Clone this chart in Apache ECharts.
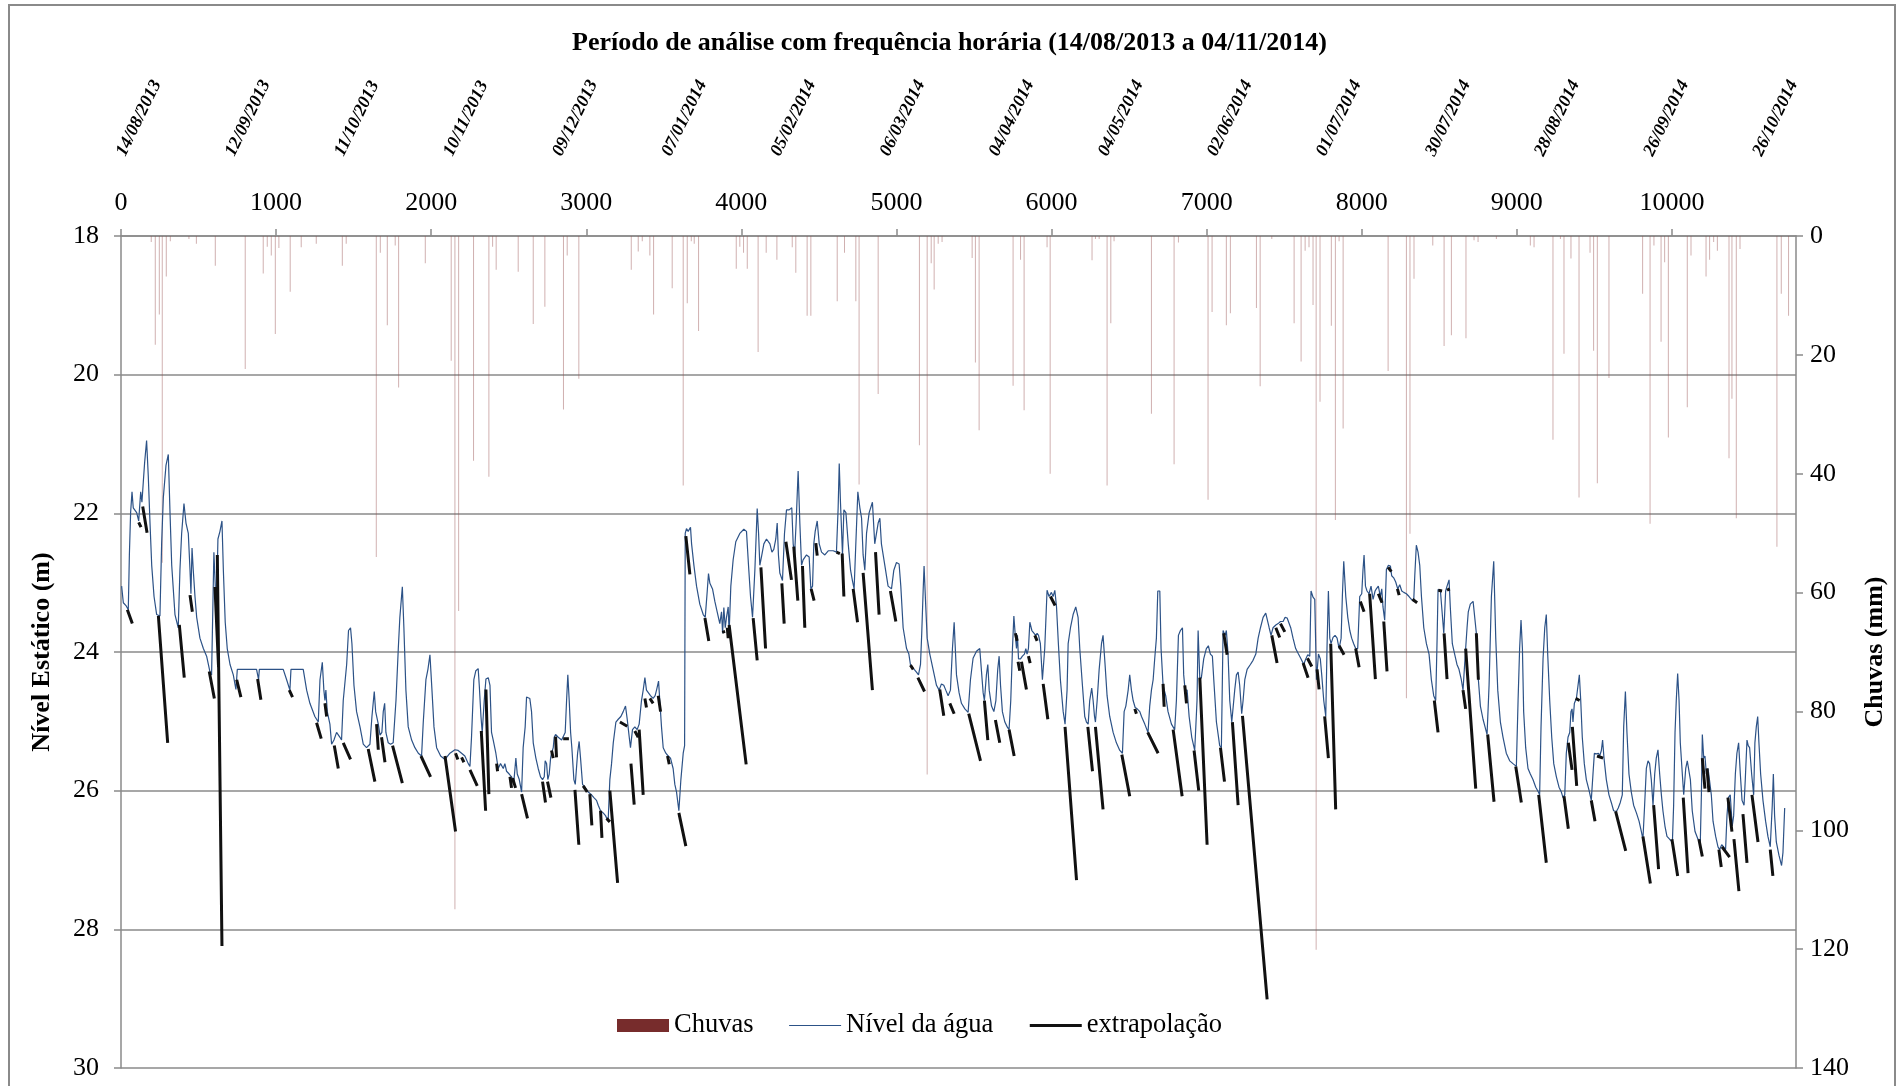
<!DOCTYPE html>
<html>
<head>
<meta charset="utf-8">
<script src="https://cdn.jsdelivr.net/npm/echarts@6/dist/echarts.min.js"></script>
<style>
  html, body { margin: 0; padding: 0; background: #fff; }
  #chart { width: 1899px; height: 1086px; }
</style>
</head>
<body>
<div id="chart"></div>
<script>
// Título e rótulos de datas do eixo superior
const titulo = 'Período de análise com frequência horária (14/08/2013 a 04/11/2014)';
const datasTopo = ['14/08/2013', '12/09/2013', '11/10/2013', '10/11/2013', '09/12/2013', '07/01/2014',
  '05/02/2014', '06/03/2014', '04/04/2014', '04/05/2014', '02/06/2014', '01/07/2014', '30/07/2014',
  '28/08/2014', '26/09/2014', '26/10/2014'];
const passoDatas = 703.5;   // horas entre rótulos de data
const horaMax = 10800;
const passoHoras = 1000;

// Nível da água: [hora, nível estático (m)]
const nivel = [
  [4,23.05],[15,23.29],[32,23.33],[47,23.39],[54,22.60],[62,21.99],[71,21.69],[79,21.92],[101,21.99],[114,22.11],
  [127,21.69],[135,21.84],[144,21.54],[152,21.28],[165,20.95],[176,21.47],[187,22.14],[198,22.75],[213,23.20],[230,23.46],
  [251,23.48],[262,22.44],[273,21.77],[290,21.31],[305,21.15],[316,21.99],[327,22.75],[348,23.46],[369,23.65],[380,22.82],
  [391,22.29],[406,21.86],[419,22.14],[434,22.29],[445,22.82],[451,23.16],[458,22.50],[466,22.82],[477,23.20],[488,23.50],
  [509,23.80],[531,23.95],[552,24.06],[574,24.29],[584,24.33],[599,22.56],[608,23.05],[617,23.20],[625,22.37],[638,22.26],
  [651,22.11],[660,22.82],[672,23.57],[685,23.95],[703,24.18],[724,24.33],[741,24.54],[750,24.25],[874,24.25],[887,24.40],
  [892,24.25],[1046,24.25],[1068,24.40],[1089,24.55],[1096,24.25],[1175,24.25],[1197,24.55],[1218,24.74],[1250,24.93],[1272,25.01],
  [1283,24.40],[1298,24.15],[1308,24.55],[1315,24.70],[1321,24.55],[1330,24.86],[1347,25.04],[1358,25.33],[1373,25.27],[1390,25.16],
  [1412,25.23],[1422,25.27],[1433,24.70],[1455,24.18],[1467,23.69],[1480,23.65],[1489,23.88],[1502,24.48],[1519,24.86],[1541,25.08],
  [1562,25.33],[1583,25.38],[1605,25.33],[1618,24.93],[1633,24.57],[1642,24.86],[1650,24.86],[1659,25.04],[1670,25.20],[1682,25.16],
  [1691,24.86],[1700,24.74],[1708,25.16],[1723,25.31],[1738,25.33],
  [1755,25.31],[1773,24.70],[1788,23.95],[1798,23.50],[1814,23.06],[1824,23.65],[1837,24.55],[1852,25.08],[1874,25.27],[1895,25.38],
  [1917,25.46],[1938,25.50],[1949,25.01],[1966,24.40],[1979,24.25],[1992,24.04],[2005,24.55],[2018,25.08],[2035,25.38],[2061,25.50],
  [2089,25.55],[2121,25.46],[2153,25.41],[2174,25.42],[2196,25.46],[2217,25.50],[2239,25.61],[2250,25.65],[2260,25.23],[2275,24.40],
  [2288,24.27],[2303,24.24],[2310,24.48],[2321,24.93],[2329,25.16],[2342,24.70],[2353,24.39],[2368,24.37],[2379,24.48],[2389,25.16],
  [2400,25.27],[2417,25.46],[2432,25.68],[2447,25.61],[2465,25.68],[2475,25.61],[2486,25.72],[2503,25.76],[2518,25.80],[2533,25.87],
  [2546,25.53],[2555,25.76],[2568,25.84],[2583,26.02],[2593,25.38],[2606,25.08],[2615,24.65],[2636,24.67],[2647,24.86],[2658,25.31],
  [2675,25.53],[2690,25.68],[2705,25.80],[2718,25.84],[2729,25.80],[2735,25.57],[2744,25.61],[2752,25.84],[2761,25.76],[2770,25.53],
  [2776,25.46],[2787,25.38],[2793,25.23],[2802,25.19],[2819,25.23],[2841,25.27],[2851,25.25],[2864,25.16],[2873,24.70],[2881,24.33],
  [2890,24.70],[2899,25.16],[2907,25.38],[2920,25.84],[2929,25.91],[2944,25.46],[2954,25.29],[2963,25.53],[2976,25.91],[2991,25.95],
  [3012,26.02],[3034,26.06],[3049,26.10],[3066,26.14],[3077,26.21],[3092,26.29],[3109,26.32],[3124,26.36],[3141,26.44],[3152,25.84],
  [3163,25.61],[3174,25.31],[3191,25.01],[3206,24.97],[3223,24.93],[3238,24.86],[3253,24.78],[3264,24.97],[3277,25.23],[3285,25.38],
  [3298,25.12],[3313,25.08],[3328,25.12],[3341,25.04],[3356,24.70],[3367,24.55],[3378,24.37],[3388,24.55],[3401,24.59],[3414,24.63],
  [3431,24.67],[3444,24.63],[3453,24.55],[3466,24.42],[3474,24.70],[3485,25.08],[3496,25.38],[3513,25.46],[3528,25.50],[3543,25.53],
  [3560,25.68],[3571,25.91],[3582,26.02],[3597,26.29],[3610,25.84],[3625,25.46],[3634,25.35],[3638,22.29],[3646,22.22],[3657,22.26],
  [3672,22.20],[3679,22.44],[3694,22.75],[3711,23.05],[3732,23.31],[3754,23.46],[3767,23.50],[3780,23.12],[3788,22.87],[3797,23.01],
  [3814,23.09],[3829,23.27],[3844,23.42],[3861,23.59],[3872,23.42],[3879,23.73],[3887,23.36],[3896,23.65],[3904,23.50],[3915,23.35],
  [3921,23.73],[3932,23.05],[3947,22.67],[3964,22.41],[3990,22.29],[4016,22.23],[4033,22.26],[4046,22.75],[4059,23.20],[4072,23.50],
  [4087,22.82],[4102,21.93],[4111,22.29],[4119,22.75],[4132,22.60],[4145,22.44],[4162,22.37],[4184,22.44],[4197,22.56],[4209,22.52],
  [4222,22.37],[4231,22.14],[4239,22.60],[4248,22.86],[4265,22.97],[4278,22.29],[4291,21.95],[4308,21.95],[4325,21.92],[4334,22.44],
  [4343,22.60],[4353,22.14],[4366,21.39],[4377,22.14],[4388,22.75],[4398,22.67],[4420,22.60],[4437,22.63],[4448,23.09],[4459,23.05],
  [4467,22.44],[4476,22.26],[4489,22.11],[4502,22.44],[4517,22.56],[4538,22.60],[4560,22.54],[4592,22.54],[4613,22.56],[4624,21.92],
  [4631,21.28],[4639,21.84],[4652,22.60],[4661,21.95],[4674,21.99],[4689,22.44],[4704,22.82],[4716,22.97],[4727,23.09],[4738,22.44],
  [4751,21.69],[4764,21.92],[4775,22.07],[4785,22.60],[4796,22.82],[4807,22.29],[4824,21.99],[4845,21.84],[4860,22.44],[4871,22.44],
  [4882,22.14],[4893,22.07],[4903,22.44],[4925,22.75],[4946,23.05],[4968,23.09],[4983,22.82],[5000,22.71],[5017,22.73],[5028,23.05],
  [5043,23.65],[5065,23.95],[5080,24.03],[5090,24.18],[5099,24.22],[5114,24.25],[5129,24.29],[5142,24.33],[5155,24.18],[5163,23.73],
  [5172,23.12],[5178,22.76],[5189,23.35],[5198,23.80],[5215,24.03],[5236,24.25],[5258,24.48],[5275,24.55],[5290,24.46],[5305,24.48],
  [5318,24.55],[5333,24.63],[5348,24.55],[5361,23.95],[5372,23.57],
  [5378,23.88],[5387,24.33],[5404,24.59],[5419,24.74],[5441,24.82],[5462,24.87],[5477,24.40],[5494,24.09],[5516,23.99],[5537,23.95],
  [5550,24.33],[5559,24.59],[5567,24.70],[5580,24.33],[5589,24.18],[5598,24.55],[5613,24.78],[5628,24.86],[5641,24.70],[5653,24.25],
  [5662,24.06],[5671,24.48],[5683,24.86],[5699,25.01],[5714,25.08],[5726,25.12],[5737,24.70],[5748,23.95],[5757,23.48],[5765,23.73],
  [5774,23.95],[5780,23.76],[5787,24.10],[5800,24.10],[5812,24.06],[5825,24.03],[5834,23.95],[5842,24.03],[5851,23.95],[5860,23.57],
  [5873,23.69],[5885,23.71],[5898,23.76],[5907,23.73],[5916,23.76],[5928,23.88],[5941,24.40],[5956,23.95],[5971,23.11],[5984,23.20],
  [5999,23.14],[6010,23.20],[6021,23.11],[6032,23.35],[6044,23.88],[6057,24.40],[6075,24.86],[6087,25.04],[6100,24.55],[6107,23.88],
  [6122,23.65],[6139,23.46],[6156,23.35],[6171,23.50],[6182,23.95],[6199,24.48],[6214,24.93],[6225,25.01],[6236,25.04],[6246,24.70],
  [6259,24.52],[6268,24.70],[6277,24.93],[6283,25.01],[6294,24.70],[6307,24.25],[6322,23.88],[6332,23.76],[6345,24.18],[6358,24.63],
  [6375,24.93],[6397,25.16],[6418,25.31],[6440,25.42],[6457,25.46],[6468,24.86],[6479,24.78],[6494,24.55],[6504,24.33],[6515,24.55],
  [6526,24.70],[6539,24.80],[6552,24.82],[6569,24.86],[6580,24.93],[6601,25.04],[6622,25.16],[6633,24.78],[6644,24.55],[6655,24.40],
  [6665,24.10],[6676,23.80],[6685,23.12],[6698,23.12],[6706,23.95],[6719,24.48],[6736,24.63],[6751,24.86],[6773,25.04],[6794,25.12],
  [6805,24.70],[6818,23.76],[6831,23.69],[6844,23.65],[6852,24.33],[6861,24.55],[6874,24.55],[6887,24.93],[6904,25.23],[6923,25.42],
  [6938,24.70],[6945,23.69],[6956,24.40],[6966,24.37],[6981,24.10],[6998,23.95],[7011,23.91],[7024,24.03],[7037,24.06],[7046,24.40],
  [7063,25.01],[7084,25.35],[7095,25.38],[7106,23.69],[7119,23.76],[7127,23.69],[7138,24.03],[7149,24.70],[7162,25.01],
  [7181,24.55],[7192,24.33],[7203,24.29],[7213,24.48],[7226,24.89],[7235,24.70],[7246,24.40],[7261,24.25],[7282,24.18],[7299,24.12],
  [7317,24.03],[7332,23.80],[7347,23.65],[7364,23.50],[7381,23.44],[7392,23.42],[7403,23.65],[7415,23.76],[7428,23.65],[7446,23.61],
  [7461,23.59],[7476,23.56],[7493,23.56],[7506,23.50],[7519,23.51],[7531,23.51],[7542,23.65],[7557,23.80],[7574,23.95],[7592,24.03],
  [7609,24.10],[7626,24.18],[7639,24.10],[7652,24.04],[7665,24.06],[7673,23.12],[7686,23.21],[7697,23.24],[7708,24.40],[7721,24.03],
  [7733,24.10],[7742,24.33],[7755,24.70],[7768,24.93],[7776,23.95],[7785,23.12],[7794,23.80],[7802,23.88],[7815,23.79],[7828,23.76],
  [7841,23.80],[7854,23.95],[7867,23.80],[7875,23.20],[7884,22.69],[7897,23.20],[7910,23.50],[7923,23.69],[7935,23.80],[7948,23.88],
  [7961,23.95],[7974,23.95],[7987,23.20],[8000,23.16],[8008,22.82],[8015,22.60],[8024,23.05],[8034,23.12],[8047,23.16],[8060,23.05],
  [8073,23.24],[8086,23.12],[8094,23.09],[8107,23.05],[8120,23.20],[8129,23.09],[8137,23.35],[8148,23.54],[8159,22.81],[8172,22.75],
  [8185,22.76],[8193,22.90],[8206,22.93],[8219,22.99],[8232,23.09],[8245,23.03],[8258,23.12],[8271,23.14],[8288,23.16],[8305,23.20],
  [8320,23.24],[8335,23.27],[8342,22.90],[8352,22.46],[8363,22.56],[8374,22.75],[8385,23.20],[8400,23.65],[8417,23.88],[8434,24.03],
  [8449,24.40],[8464,24.63],[8477,24.70],[8486,23.80],[8492,23.10],[8507,23.11],[8518,23.12],[8529,23.73],[8541,23.12],[8550,23.05],
  [8563,22.96],[8571,23.35],[8584,23.88],[8599,24.03],[8614,24.18],[8627,24.25],[8642,24.40],[8653,24.55],[8662,24.55],[8670,23.95],
  [8679,23.65],[8687,23.42],[8700,23.31],[8718,23.27],[8730,23.26],[8739,23.73],[8752,24.40],[8765,24.78],[8782,24.97],[8795,25.08],
  [8808,25.19],[8821,24.48],[8836,23.20],[8851,22.69],[8864,23.80],[8877,24.55],[8894,25.01],[8911,25.23],[8932,25.46],[8954,25.57],
  [8975,25.61],[8997,25.65],
  [9008,24.70],[9018,23.95],[9027,23.54],[9036,23.95],[9044,24.86],[9057,25.38],[9072,25.68],[9087,25.76],[9104,25.84],[9122,25.95],
  [9139,26.02],[9147,26.06],[9156,25.08],[9169,24.10],[9180,23.65],[9190,23.46],[9199,24.03],[9212,24.70],[9225,25.23],[9238,25.61],
  [9255,25.80],[9272,25.95],[9287,26.02],[9298,26.10],[9309,26.06],[9319,25.46],[9330,25.23],[9341,25.16],[9349,24.86],[9356,24.82],
  [9362,25.01],[9371,24.74],[9384,24.67],[9394,24.67],[9403,24.33],[9412,24.70],[9422,25.23],[9435,25.61],[9448,25.84],[9465,25.99],
  [9480,26.14],[9491,25.76],[9500,25.46],[9513,25.47],[9526,25.46],[9534,25.50],[9545,25.42],[9553,25.27],[9562,25.53],[9577,25.84],
  [9594,26.06],[9609,26.17],[9624,26.29],[9642,26.30],[9654,26.25],[9667,26.17],[9680,26.06],[9689,25.08],[9700,24.57],[9710,25.16],
  [9723,25.76],[9738,26.02],[9753,26.21],[9771,26.32],[9788,26.44],[9803,26.59],[9813,26.70],[9824,26.21],[9835,25.68],[9846,25.57],
  [9856,25.61],[9867,25.84],[9878,26.21],[9889,25.76],[9899,25.53],[9910,25.41],[9921,25.76],[9932,26.06],[9942,26.29],[9955,26.51],
  [9968,26.66],[9985,26.70],[10003,26.74],[10011,26.21],[10020,25.16],[10028,24.70],[10037,24.31],[10046,24.70],[10054,25.31],[10067,25.76],
  [10076,26.06],[10089,25.68],[10099,25.57],[10110,25.55],[10119,25.84],[10131,26.29],[10149,26.59],[10168,26.70],[10183,26.74],[10190,26.06],
  [10196,25.19],[10205,25.53],[10213,25.50],[10222,25.76],[10233,25.68],[10243,25.68],[10254,26.06],[10265,26.44],[10282,26.66],[10297,26.81],
  [10308,26.85],[10321,26.78],[10333,26.81],[10346,26.85],[10355,26.36],[10364,26.10],[10376,26.06],[10389,26.51],[10398,26.36],[10409,25.76],
  [10419,25.46],[10430,25.31],[10441,25.76],[10452,26.14],[10465,26.21],[10473,25.84],[10484,25.27],[10492,25.35],[10501,25.38],[10514,25.76],
  [10527,26.06],[10535,25.31],[10544,25.08],[10553,24.93],[10561,25.31],[10572,25.76],[10587,26.14],[10604,26.44],[10619,26.66],[10634,26.81],
  [10647,26.21],[10654,25.76],[10662,26.36],[10673,26.74],[10690,26.93],[10707,27.08],[10716,26.89],[10727,26.25]
];

// Chuvas horárias: [hora, mm]
const chuvas = [
  [195,1],[221,18.3],[247,13.2],[266,55],[292,6.8],[318,0.9],[438,0.5],[486,1.3],[608,5],[801,22.4],
  [917,6.3],[943,1.8],[969,3.3],[995,16.5],[1018,2],[1091,9.4],[1162,1.9],[1259,1.3],[1427,5],[1452,1.3],
  [1646,54],[1672,2.8],[1717,15],[1768,1.6],[1790,25.5],[1962,4.6],[2129,21],[2153,113.3],[2177,63.1],[2273,37.8],
  [2372,40.5],[2396,1.8],[2419,5.7],[2561,6],[2658,14.8],[2733,11.9],[2853,29.2],[2877,3.3],[2952,24],[3290,5.7],
  [3335,2.6],[3361,0.9],[3410,3.3],[3434,13.2],[3554,8.8],[3625,42],[3651,11.3],[3677,0.9],[3696,1.3],[3724,16],
  [3967,5.5],[3990,1.8],[4014,2.8],[4038,5.5],[4108,19.5],[4160,2.8],[4229,4],[4328,1.9],[4351,6.2],[4424,13.4],
  [4448,13.4],[4618,11],[4665,2.8],[4738,11],[4759,41.8],[4882,26.6],[5148,35.2],[5198,90.6],[5224,4.6],[5243,9],
  [5269,1.3],[5294,1],[5488,3.7],[5509,21.3],[5533,32.7],[5752,25.2],[5800,4],[5823,29.3],[5971,1.9],[5991,40],
  [6261,4.1],[6283,0.5],[6307,0.5],[6358,42],[6382,14.7],[6403,0.9],[6644,29.9],[6790,38.4],[6818,1.1],[7009,44.4],
  [7035,12.8],[7127,15],[7153,13],[7321,12.1],[7345,25.3],[7420,0.5],[7564,14.7],[7609,21.1],[7635,2.5],[7660,1.9],
  [7686,11.6],[7706,120.1],[7731,27.9],[7804,15.1],[7830,47.8],[7854,0.9],[7880,32.4],[8170,22.7],[8288,77.8],[8311,50.1],
  [8337,7.2],[8458,1.6],[8531,18.5],[8578,16.7],[8672,17.2],[8724,0.7],[8750,1],[8868,0.5],[9087,1.6],[9111,1.9],
  [9233,34.3],[9281,0.5],[9304,19.8],[9349,3.8],[9401,44],[9472,2.8],[9495,19.3],[9519,41.6],[9594,23.9],[9811,9.7],
  [9859,48.4],[9884,1.6],[9930,17.8],[9953,4.4],[9977,33.9],[10099,28.8],[10123,3.3],[10220,6.8],[10243,4],[10269,1],
  [10293,2.5],[10368,37.4],[10387,27.4],[10415,47.5],[10439,2.2],[10677,52.3],[10705,9.7],[10752,13.4]
];

// Trechos de extrapolação da recessão: [hora inicial, nível inicial, hora final, nível final]
const extrapolacao = [
  [41,23.39,73,23.59],[114,22.13,129,22.20],[140,21.90,168,22.28],[241,23.48,301,25.31],[376,23.61,408,24.37],
  [445,23.18,460,23.42],[569,24.28,602,24.67],[606,23.06,629,24.22],[621,22.60,651,28.24],[746,24.40,773,24.65],
  [881,24.39,902,24.69],[1085,24.55,1106,24.65],[1261,25.02,1291,25.25],[1315,24.74,1326,24.93],[1375,25.35,1401,25.68],
  [1433,25.31,1480,25.55],[1594,25.40,1637,25.87],[1648,25.04,1659,25.41],[1680,25.23,1702,25.59],[1751,25.35,1814,25.89],
  [1934,25.50,1996,25.80],[2089,25.50,2157,26.59],[2157,25.46,2172,25.55],[2196,25.52,2211,25.59],[2250,25.70,2297,25.93],
  [2323,25.14,2351,26.29],[2353,24.54,2372,26.05],[2422,25.61,2428,25.72],[2508,25.80,2518,25.96],[2525,25.82,2544,25.96],
  [2583,26.05,2621,26.40],[2718,25.87,2737,26.17],[2750,25.87,2772,26.10],[2776,25.42,2787,25.53],[2802,25.22,2808,25.52],
  [2851,25.25,2888,25.25],[2927,25.99,2952,26.78],[2980,25.93,3006,26.02],[3023,26.05,3036,26.50],[3092,26.29,3101,26.68],
  [3131,26.40,3152,26.45],[3152,26.00,3202,27.33],[3217,25.01,3264,25.07],[3288,25.61,3309,26.20],[3313,25.14,3335,25.23],
  [3341,25.12,3367,26.06],[3378,24.67,3388,24.80],[3410,24.67,3431,24.74],[3464,24.63,3479,24.86],[3524,25.50,3535,25.62],
  [3597,26.32,3642,26.80],[3642,22.33,3668,22.88],[3765,23.51,3790,23.84],[3883,23.69,3889,23.73],[3909,23.65,3915,23.80],
  [3921,23.61,4031,25.62],[4076,23.51,4102,24.12],[4126,22.78,4156,23.95],[4261,23.01,4276,23.59],[4287,22.41,4323,22.96],
  [4338,22.48,4364,23.26],[4394,22.76,4409,23.65],[4450,23.09,4469,23.26],[4480,22.43,4489,22.61],[4613,22.56,4635,22.58],
  [4650,22.58,4661,23.20],[4721,23.09,4749,23.57],[4785,22.86,4845,24.55],[4865,22.56,4888,23.46],[4961,23.12,4996,23.56],
  [5090,24.19,5108,24.25],[5138,24.37,5181,24.57],[5279,24.54,5305,24.92],[5344,24.74,5372,24.89],
  [5466,24.89,5542,25.57],[5567,24.70,5589,25.27],[5638,24.98,5666,25.31],[5726,25.12,5759,25.50],[5767,23.73,5778,23.84],
  [5784,24.14,5795,24.27],[5806,24.14,5838,24.54],[5851,24.06,5862,24.16],[5892,23.76,5907,23.84],[5946,24.46,5976,24.97],
  [5993,23.20,6023,23.33],[6087,25.08,6161,27.29],[6234,25.08,6264,25.72],[6283,25.08,6332,26.27],[6453,25.48,6504,26.08],
  [6537,24.82,6547,24.89],[6620,25.16,6687,25.46],[6719,24.46,6726,24.79],[6784,25.12,6842,26.08],[6859,24.48,6870,24.74],
  [6919,25.42,6949,26.00],[6956,24.37,7003,26.78],[7089,25.38,7115,25.87],[7110,23.73,7132,24.04],[7166,25.01,7203,26.21],
  [7231,24.92,7390,29.01],[7420,23.76,7454,24.16],[7446,23.65,7471,23.79],[7476,23.59,7504,23.71],[7622,24.16,7654,24.37],
  [7650,24.09,7678,24.21],[7712,24.25,7725,24.54],[7761,24.93,7785,25.53],[7800,23.88,7832,26.27],[7854,23.91,7886,24.04],
  [7961,23.95,7983,24.22],[7991,23.27,8015,23.42],[8051,23.16,8088,24.39],[8107,23.16,8131,23.29],[8142,23.56,8163,24.28],
  [8170,22.78,8191,22.84],[8230,23.09,8241,23.18],[8327,23.24,8357,23.29],[8468,24.70,8492,25.16],[8494,23.11,8518,23.12],
  [8531,23.73,8550,24.39],[8550,23.11,8567,23.09],[8653,24.55,8670,24.82],[8670,23.95,8735,25.97],[8739,23.73,8752,24.40],
  [8812,25.19,8853,26.16],[8993,25.65,9029,26.17],[9141,26.06,9190,27.04],[9304,26.08,9332,26.55],[9332,25.31,9356,25.70],
  [9358,25.08,9386,25.93],[9379,24.67,9405,24.70],[9480,26.14,9504,26.44],[9517,25.50,9556,25.53],[9637,26.30,9702,26.87],
  [9813,26.66,9861,27.34],[9882,26.21,9914,27.13],[10000,26.70,10037,27.23],[10073,26.10,10104,27.19],[10174,26.70,10196,26.95],
  [10196,25.53,10213,25.97],[10226,25.68,10239,26.02],[10303,26.85,10318,27.10],[10323,26.81,10372,26.96],[10361,26.10,10387,26.59],
  [10400,26.70,10432,27.45],[10458,26.34,10484,27.04],[10516,26.06,10555,26.74],[10634,26.85,10651,27.23]
];

// Cada trecho vira dois pontos seguidos de uma quebra na linha
const serieExtrap = [];
extrapolacao.forEach(function (t) {
  serieExtrap.push([t[0], t[1]], [t[2], t[3]], [t[2], null]);
});

const fonte = "'Liberation Serif', 'Times New Roman', serif";
const cinza = '#8a8a8a';
const preto = '#000';
const azul = '#2c5287';
const corExtrap = '#111';

const chart = echarts.init(document.getElementById('chart'), null, { renderer: 'canvas' });

chart.setOption({
  animation: false,
  backgroundColor: '#fff',
  textStyle: { fontFamily: fonte, color: preto },
  graphic: [{
    type: 'rect', silent: true, z: -1,
    shape: { x: 9, y: 5, width: 1886, height: 1100 },
    style: { fill: 'none', stroke: cinza, lineWidth: 2 }
  }],
  title: {
    text: titulo, left: 'center', top: 25,
    textStyle: { fontFamily: fonte, fontSize: 26, fontWeight: 'bold', color: preto }
  },
  legend: {
    left: 617, top: 1012, padding: 0, itemWidth: 52, itemHeight: 13, itemGap: 35,
    textStyle: { fontFamily: fonte, fontSize: 26.5, color: preto },
    data: [
      { name: 'Chuvas', icon: 'rect', itemStyle: { color: '#772c2c', opacity: 1 } },
      { name: 'Nível da água', itemStyle: { opacity: 0 }, lineStyle: { color: azul, width: 1.2, opacity: 1 } },
      { name: 'extrapolação', itemStyle: { opacity: 0 }, lineStyle: { color: corExtrap, width: 3, opacity: 1 } }
    ]
  },
  grid: { left: 121, right: 103, top: 236, bottom: 18 },
  xAxis: [
    {
      type: 'value', position: 'top', min: 0, max: horaMax, interval: passoHoras,
      axisLine: { show: true, onZero: false, lineStyle: { color: cinza, width: 1.5 } },
      axisTick: { show: true, inside: false, length: 7, lineStyle: { color: cinza, width: 1.5 } },
      axisLabel: {
        fontFamily: fonte, fontSize: 26, color: preto, margin: 20, showMaxLabel: false,
        formatter: function (v) { return v % passoHoras === 0 ? String(v) : ''; }
      },
      splitLine: { show: false }
    },
    {
      type: 'value', position: 'top', min: 0, max: horaMax, interval: passoDatas,
      axisLine: { show: false, onZero: false }, axisTick: { show: false }, splitLine: { show: false },
      axisLabel: {
        rotate: -64, margin: 81, align: 'left', verticalAlign: 'middle', showMaxLabel: false,
        fontFamily: fonte, fontSize: 18, fontStyle: 'italic', fontWeight: 'bold', color: preto,
        formatter: function (v) { return datasTopo[Math.round(v / passoDatas)] || ''; }
      }
    }
  ],
  yAxis: [
    {
      type: 'value', inverse: true, min: 18, max: 30, interval: 2,
      name: 'Nível Estático (m)', nameLocation: 'middle', nameGap: 66, nameRotate: 90,
      nameTextStyle: { fontFamily: fonte, fontSize: 26, fontWeight: 'bold', color: preto },
      axisLine: { show: true, onZero: false, lineStyle: { color: cinza, width: 1.5 } },
      axisTick: { show: true, length: 7, lineStyle: { color: cinza, width: 1.5 } },
      axisLabel: { fontFamily: fonte, fontSize: 26, color: preto, margin: 22 },
      splitLine: { show: true, lineStyle: { color: cinza, width: 1.5 } }
    },
    {
      type: 'value', inverse: true, min: 0, max: 140, interval: 20, position: 'right',
      name: 'Chuvas (mm)', nameLocation: 'middle', nameGap: 66, nameRotate: 90,
      nameTextStyle: { fontFamily: fonte, fontSize: 26, fontWeight: 'bold', color: preto },
      axisLine: { show: true, onZero: false, lineStyle: { color: cinza, width: 1.5 } },
      axisTick: { show: true, length: 7, lineStyle: { color: cinza, width: 1.5 } },
      axisLabel: { fontFamily: fonte, fontSize: 26, color: preto, margin: 14 },
      splitLine: { show: false }
    }
  ],
  series: [
    {
      name: 'Chuvas', type: 'bar', xAxisIndex: 0, yAxisIndex: 1,
      data: chuvas, barWidth: 1,
      itemStyle: { color: 'rgba(150, 80, 80, 0.45)' },
      z: 1
    },
    {
      name: 'Nível da água', type: 'line', xAxisIndex: 0, yAxisIndex: 0,
      data: nivel, symbol: 'none', showSymbol: false,
      lineStyle: { color: azul, width: 1.2 }, itemStyle: { color: azul },
      z: 2
    },
    {
      name: 'extrapolação', type: 'line', xAxisIndex: 0, yAxisIndex: 0,
      data: serieExtrap, symbol: 'none', showSymbol: false, connectNulls: false,
      lineStyle: { color: corExtrap, width: 3 }, itemStyle: { color: corExtrap },
      z: 3
    }
  ]
});
</script>
</body>
</html>
